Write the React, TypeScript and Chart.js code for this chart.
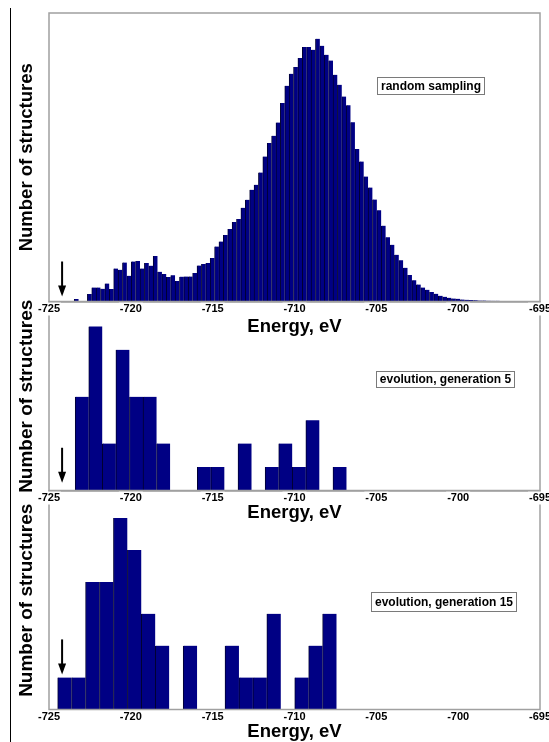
import React, { useEffect, useRef } from 'react';
import { Chart, registerables } from 'chart.js';

Chart.register(...registerables);

// ---------- axis ----------
const X_MIN = -725;
const X_MAX = -695;
const X_STEP = 5;
const X_TITLE = 'Energy, eV';
const Y_TITLE = 'Number of structures';
const ARROW_ENERGY = -724.2; // marked lowest energy

// ---------- panel 1: random sampling ----------
const RANDOM_LABEL = 'random sampling';
const RANDOM_BIN_START = -723.46;
const RANDOM_BIN_WIDTH = 0.268;
const RANDOM_COUNTS = [
  2.4, 0, 0, 7.4, 14, 14, 12.7, 18, 12.4, 33, 31.7, 39, 25.7, 40, 40.5, 33, 38.4, 35.8, 45.5, 29.7,
  27.5, 24.4, 26.2, 20.5, 24.8, 25, 25, 28.4, 36, 37.4, 38.4, 43.4, 55, 60, 66.4, 72.4, 79.4, 82.4, 93.7, 101.7,
  111.7, 116.7, 129, 145, 158.4, 165.7, 179, 198.4, 215.7, 227.7, 234.4, 243.4, 254.4, 254.4, 251.7, 262.7, 255.7, 246.7, 241, 226.7,
  216.7, 205, 196.2, 179.2, 152.5, 140, 125, 114, 102, 91.3, 75.8, 64.2, 56.7, 46.7, 41.3, 33.7, 26.5, 21.3, 17, 14,
  11.7, 9.4, 7.7, 5.7, 4.7, 3.7, 3, 2.7, 2, 1.7, 1.4, 1.2, 1, 1, 0.8, 0.7, 0.7, 0.5, 0.5, 0.5,
];

// ---------- panel 2: evolution, generation 5 ----------
const GEN5_LABEL = 'evolution, generation 5';
const GEN5_BIN_START = -723.4;
const GEN5_BIN_WIDTH = 0.829;
const GEN5_COUNTS = [4, 7, 2, 6, 4, 4, 2, 0, 0, 1, 1, 0, 2, 0, 1, 2, 1, 3, 0, 1];

// ---------- panel 3: evolution, generation 15 ----------
const GEN15_LABEL = 'evolution, generation 15';
const GEN15_BIN_START = -724.47;
const GEN15_BIN_WIDTH = 0.852;
const GEN15_COUNTS = [1, 1, 4, 4, 6, 5, 3, 2, 0, 2, 0, 0, 2, 1, 1, 3, 0, 1, 2, 3];

// ---------- style ----------
const FONT = "'Liberation Sans', Arial, sans-serif";
const BAR_FILL = '#000084';
const BAR_EDGE = '#000030';
const FRAME = '#a0a0a0';

type PanelSpec = {
  id: string;
  counts: number[];
  binStart: number;
  binWidth: number;
  yMax: number;
  label: string;
  labelX: number;
  labelY: number;
  labelBoxH: number;
  arrowTip: number;
  top: number;
  height: number;
  padTop: number;
  yTitleSize: number;
  xTitlePadTop: number;
};

const PANELS: PanelSpec[] = [
  {
    id: 'random', counts: RANDOM_COUNTS, binStart: RANDOM_BIN_START, binWidth: RANDOM_BIN_WIDTH,
    yMax: 288.5, label: RANDOM_LABEL, labelX: -701.7, labelY: 215.5, labelBoxH: 17, arrowTip: 5,
    top: 0, height: 338, padTop: 13, yTitleSize: 18.5, xTitlePadTop: 1,
  },
  {
    id: 'gen5', counts: GEN5_COUNTS, binStart: GEN5_BIN_START, binWidth: GEN5_BIN_WIDTH,
    yMax: 8.04, label: GEN5_LABEL, labelX: -700.83, labelY: 4.76, labelBoxH: 16, arrowTip: 0.33,
    top: 296, height: 228, padTop: 6, yTitleSize: 19, xTitlePadTop: -2,
  },
  {
    id: 'gen15', counts: GEN15_COUNTS, binStart: GEN15_BIN_START, binWidth: GEN15_BIN_WIDTH,
    yMax: 6.85, label: GEN15_LABEL, labelX: -700.9, labelY: 3.39, labelBoxH: 19, arrowTip: 1.1,
    top: 485, height: 258, padTop: 6, yTitleSize: 19, xTitlePadTop: -2,
  },
];

function overlayPlugin(p: PanelSpec) {
  return {
    id: 'overlay-' + p.id,
    afterDatasetsDraw(chart: any) {
      const { ctx, chartArea: a, scales } = chart;
      ctx.save();
      // frame
      ctx.strokeStyle = FRAME;
      ctx.lineWidth = 1.5;
      ctx.strokeRect(a.left, a.top, a.right - a.left, a.bottom - a.top);
      // arrow
      const ax = scales.x.getPixelForValue(ARROW_ENERGY);
      const tip = scales.y.getPixelForValue(p.arrowTip);
      ctx.strokeStyle = '#000';
      ctx.lineWidth = 2;
      ctx.beginPath();
      ctx.moveTo(ax, tip - 35);
      ctx.lineTo(ax, tip - 8);
      ctx.stroke();
      ctx.fillStyle = '#000';
      ctx.beginPath();
      ctx.moveTo(ax - 4, tip - 11);
      ctx.lineTo(ax + 4, tip - 11);
      ctx.lineTo(ax, tip);
      ctx.closePath();
      ctx.fill();
      // label box
      ctx.font = `bold 12px ${FONT}`;
      const tw = ctx.measureText(p.label).width;
      const cx = scales.x.getPixelForValue(p.labelX);
      const cy = scales.y.getPixelForValue(p.labelY);
      const w = Math.round(tw + 7);
      const h = p.labelBoxH;
      const bx = Math.round(cx - w / 2);
      const by = Math.round(cy - h / 2);
      ctx.fillStyle = '#fff';
      ctx.fillRect(bx, by, w, h);
      ctx.strokeStyle = '#7a7a7a';
      ctx.lineWidth = 1;
      ctx.strokeRect(bx + 0.5, by + 0.5, w, h);
      ctx.fillStyle = '#000';
      ctx.textAlign = 'center';
      ctx.textBaseline = 'middle';
      ctx.fillText(p.label, bx + w / 2 + 0.5, by + h / 2 + 1);
      ctx.restore();
    },
  };
}

function HistPanel({ p }: { p: PanelSpec }) {
  const ref = useRef<HTMLCanvasElement | null>(null);
  useEffect(() => {
    if (!ref.current) return;
    const data = p.counts.map((c, i) => ({ x: p.binStart + (i + 0.5) * p.binWidth, y: c }));
    const chart = new Chart(ref.current, {
      type: 'bar',
      data: {
        datasets: [
          {
            data,
            backgroundColor: BAR_FILL,
            borderColor: BAR_EDGE,
            borderWidth: { left: 1, right: 0, top: 0, bottom: 0 },
            borderSkipped: false,
            barPercentage: 1,
            categoryPercentage: 1,
          } as any,
        ],
      },
      options: {
        animation: false,
        responsive: false,
        events: [],
        layout: { padding: { top: p.padTop, left: 0, right: 20, bottom: 0 } },
        plugins: { legend: { display: false }, tooltip: { enabled: false }, title: { display: false } },
        scales: {
          x: {
            type: 'linear',
            min: X_MIN,
            max: X_MAX,
            offset: false,
            grid: { display: false, drawTicks: false },
            border: { display: false },
            ticks: {
              stepSize: X_STEP,
              padding: 2,
              color: '#000',
              autoSkip: false,
              maxRotation: 0,
              font: { family: FONT, size: 11, weight: 'bold', lineHeight: 1 },
              showLabelBackdrop: true,
              backdropColor: '#ffffff',
              backdropPadding: 1,
              callback: (v: any) => String(v),
            },
            title: {
              display: true,
              text: X_TITLE,
              color: '#000',
              font: { family: FONT, size: 18.5, weight: 'bold', lineHeight: 1 },
              padding: { top: p.xTitlePadTop, bottom: 2 },
            },
          },
          y: {
            type: 'linear',
            min: 0,
            max: p.yMax,
            grid: { display: false, drawTicks: false },
            border: { display: false },
            ticks: { display: false },
            title: {
              display: true,
              text: Y_TITLE,
              color: '#000',
              font: { family: FONT, size: p.yTitleSize, weight: 'bold', lineHeight: 1 },
              padding: { top: 27 - p.yTitleSize / 2, bottom: 49 - p.yTitleSize - (27 - p.yTitleSize / 2) },
            },
          },
        },
      } as any,
      plugins: [overlayPlugin(p)],
    });
    return () => chart.destroy();
  }, [p]);
  return (
    <canvas
      ref={ref}
      width={560}
      height={p.height}
      style={{ position: 'absolute', left: 0, top: p.top, width: 560, height: p.height }}
    />
  );
}

export default function App() {
  const order = [PANELS[2], PANELS[1], PANELS[0]];
  return (
    <div
      style={{
        position: 'absolute', left: 0, top: 0, width: 549, height: 742,
        overflow: 'hidden', background: '#fff',
      }}
    >
      <div style={{ position: 'absolute', left: 10, top: 8, width: 0, height: 734, borderLeft: '1px solid #000' }} />
      {order.map((p) => (
        <HistPanel key={p.id} p={p} />
      ))}
    </div>
  );
}
